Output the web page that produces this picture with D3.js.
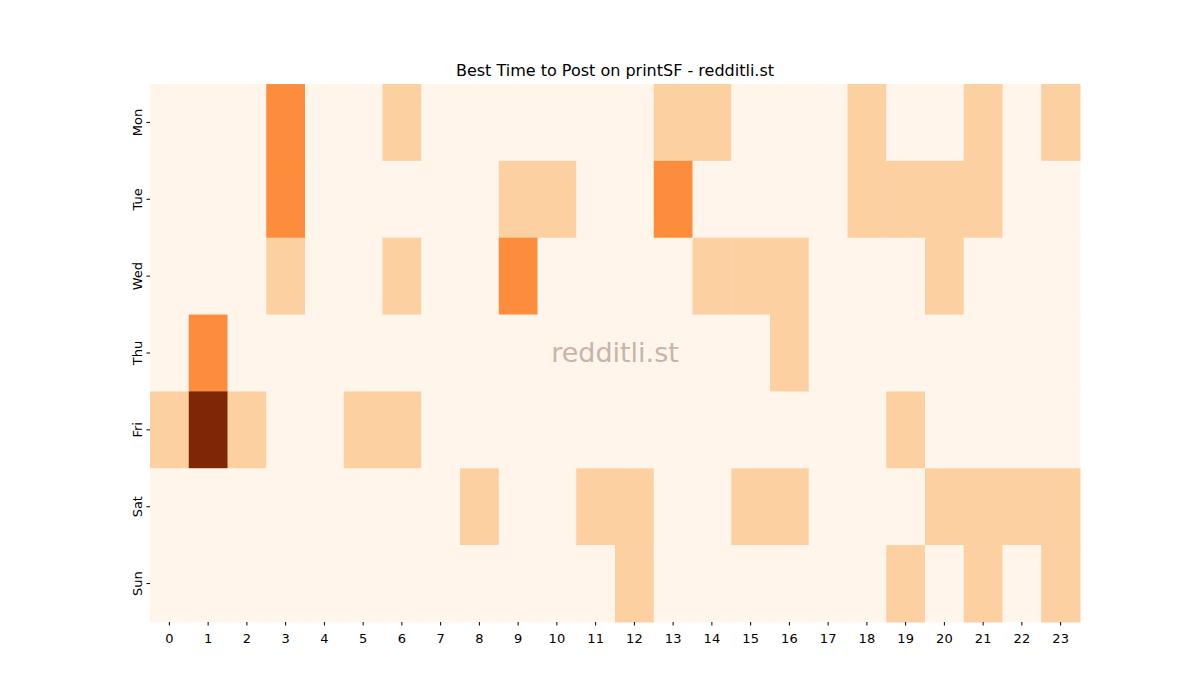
<!DOCTYPE html>
<html><head><meta charset="utf-8">
<script src="https://cdn.jsdelivr.net/npm/d3@7"></script>
<style>body{margin:0;background:#fff;font-family:"DejaVu Sans",sans-serif}</style>
</head><body><svg id="c" width="1200" height="700"></svg>
<script>
const days = ["Mon","Tue","Wed","Thu","Fri","Sat","Sun"];
const hours = d3.range(24).map(String);
const mon = [0,0,0,2,0,0,1,0,0,0,0,0,0,1,1,0,0,0,1,0,0,1,0,1];
const tue = [0,0,0,2,0,0,0,0,0,1,1,0,0,2,0,0,0,0,1,1,1,1,0,0];
const wed = [0,0,0,1,0,0,1,0,0,2,0,0,0,0,1,1,1,0,0,0,1,0,0,0];
const thu = [0,2,0,0,0,0,0,0,0,0,0,0,0,0,0,0,1,0,0,0,0,0,0,0];
const fri = [1,3,1,0,0,1,1,0,0,0,0,0,0,0,0,0,0,0,0,1,0,0,0,0];
const sat = [0,0,0,0,0,0,0,0,1,0,0,1,1,0,0,1,1,0,0,0,1,1,1,1];
const sun = [0,0,0,0,0,0,0,0,0,0,0,0,1,0,0,0,0,0,0,1,0,1,0,1];
const rows = [mon,tue,wed,thu,fri,sat,sun];
const levelColors = ["#fff5eb","#fdd0a2","#fd8d3c","#7f2704"];

const svg = d3.select("#c");
const m = {l:150, r:1080, t:84, b:622};
const x = d3.scaleBand().domain(hours).range([m.l,m.r]);
const y = d3.scaleBand().domain(days).range([m.t,m.b]);
const color = d3.scaleOrdinal().domain([0,1,2,3]).range(levelColors);

const cells = [];
rows.forEach((r,i)=>r.forEach((v,j)=>cells.push({d:days[i],h:hours[j],v})));
svg.selectAll("rect.cell").data(cells).join("rect")
  .attr("x",d=>x(d.h)).attr("y",d=>y(d.d))
  .attr("width",x.bandwidth()+0.5).attr("height",y.bandwidth()+0.5)
  .attr("fill",d=>color(d.v));

const xa = svg.append("g").attr("transform",`translate(0,${m.b})`).call(d3.axisBottom(x).tickSize(3.5));
const ya = svg.append("g").attr("transform",`translate(${m.l},0)`).call(d3.axisLeft(y).tickSize(3.5));
[xa,ya].forEach(a=>{a.select(".domain").remove();a.selectAll("text").attr("font-size",13).attr("fill","#000").attr("font-family","DejaVu Sans");a.selectAll("line").attr("stroke","#000");});
xa.selectAll("text").attr("dy","1.1em");
ya.selectAll("text").attr("transform",function(){const yy=+d3.select(this.parentNode).attr("transform").match(/,([\d.]+)/)[1];return null;})
  .attr("text-anchor","middle").attr("x",null).attr("dy",null)
  .attr("transform","translate(-13,0) rotate(-90)").attr("dy","0.35em");

svg.append("text").attr("x",615).attr("y",76).attr("text-anchor","middle")
  .attr("font-size",16).text("Best Time to Post on printSF - redditli.st");
svg.append("text").attr("x",615).attr("y",362).attr("text-anchor","middle")
  .attr("font-size",27).attr("fill","#c8b4a8").text("redditli.st");
</script></body></html>
